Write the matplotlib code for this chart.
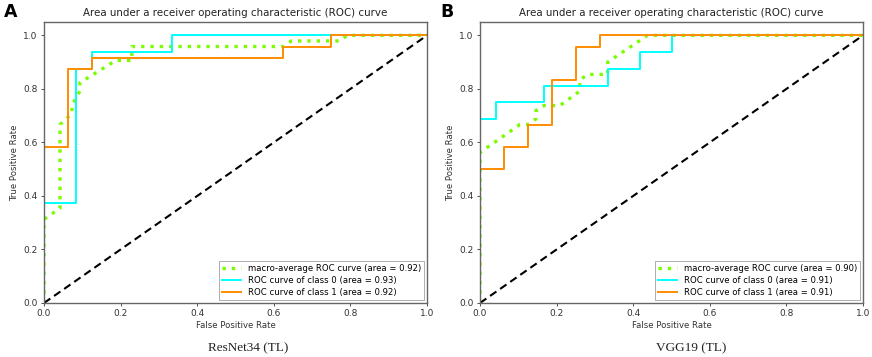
import matplotlib
matplotlib.use("Agg")
import matplotlib.pyplot as plt

# ---------------- data ----------------
titles = ["Area under a receiver operating characteristic (ROC) curve"] * 2
panel_letters = ["A", "B"]
captions = ["ResNet34 (TL)", "VGG19 (TL)"]

# Panel A (ResNet34)
a_macro_fpr = [0, 0, 0.0417, 0.0417, 0.0729, 0.0729, 0.0938, 0.0938, 0.1875, 0.2292, 0.2292, 0.625, 0.6458, 0.7708, 0.7917, 1.0]
a_macro_tpr = [0, 0.3125, 0.3542, 0.6667, 0.7083, 0.7396, 0.7917, 0.8229, 0.9063, 0.9063, 0.9583, 0.9583, 0.9792, 0.9792, 1.0, 1.0]
a_c0_fpr = [0, 0, 0.0833, 0.0833, 0.125, 0.125, 0.3333, 0.3333, 1.0]
a_c0_tpr = [0, 0.375, 0.375, 0.875, 0.875, 0.9375, 0.9375, 1.0, 1.0]
a_c1_fpr = [0, 0, 0.0625, 0.0625, 0.125, 0.125, 0.625, 0.625, 0.75, 0.75, 1.0]
a_c1_tpr = [0, 0.5833, 0.5833, 0.875, 0.875, 0.9167, 0.9167, 0.9583, 0.9583, 1.0, 1.0]
a_auc = [0.92, 0.93, 0.92]

# Panel B (VGG19)
b_macro_fpr = [0, 0, 0.1042, 0.125, 0.1458, 0.1458, 0.1667, 0.2083, 0.2604, 0.2604, 0.2813, 0.3333, 0.3333, 0.4375, 1.0]
b_macro_tpr = [0, 0.5625, 0.6667, 0.6667, 0.6875, 0.7188, 0.7375, 0.7375, 0.7917, 0.8333, 0.8542, 0.8542, 0.90, 1.0, 1.0]
b_c0_fpr = [0, 0, 0.0417, 0.0417, 0.1667, 0.1667, 0.3333, 0.3333, 0.4167, 0.4167, 0.5, 0.5, 1.0]
b_c0_tpr = [0, 0.6875, 0.6875, 0.75, 0.75, 0.8125, 0.8125, 0.875, 0.875, 0.9375, 0.9375, 1.0, 1.0]
b_c1_fpr = [0, 0, 0.0625, 0.0625, 0.125, 0.125, 0.1875, 0.1875, 0.25, 0.25, 0.3125, 0.3125, 1.0]
b_c1_tpr = [0, 0.5, 0.5, 0.5833, 0.5833, 0.6667, 0.6667, 0.8333, 0.8333, 0.9583, 0.9583, 1.0, 1.0]
b_auc = [0.90, 0.91, 0.91]

panels = [
    (a_macro_fpr, a_macro_tpr, a_c0_fpr, a_c0_tpr, a_c1_fpr, a_c1_tpr, a_auc),
    (b_macro_fpr, b_macro_tpr, b_c0_fpr, b_c0_tpr, b_c1_fpr, b_c1_tpr, b_auc),
]

# ---------------- figure ----------------
W, H = 872, 357
fig = plt.figure(figsize=(W / 100, H / 100), dpi=100)
plt.rcParams['font.family'] = ['DejaVu Sans']

ax_lefts = [44, 480]
ax_w = 383
ax_top, ax_bot = 22, 303
letter_x = [4, 440]
caption_x = [248, 691]

for i, (mf, mt, c0f, c0t, c1f, c1t, auc) in enumerate(panels):
    ax = fig.add_axes([ax_lefts[i] / W, (H - ax_bot) / H, ax_w / W, (ax_bot - ax_top) / H])
    ax.plot(mf, mt, color='#7CFC00', linestyle=(0, (1, 1.8)), linewidth=2.4,
            label=f'macro-average ROC curve (area = {auc[0]:.2f})')
    ax.plot(c0f, c0t, color='aqua', linewidth=1.4,
            label=f'ROC curve of class 0 (area = {auc[1]:.2f})')
    ax.plot(c1f, c1t, color='darkorange', linewidth=1.4,
            label=f'ROC curve of class 1 (area = {auc[2]:.2f})')
    ax.plot([0, 1], [0, 1], color='black', linestyle=(0, (3.7, 2.2)), linewidth=1.5)
    ax.set_xlim(0.0, 1.0)
    ax.set_ylim(0.0, 1.05)
    ax.set_xticks([0, 0.2, 0.4, 0.6, 0.8, 1.0])
    ax.set_yticks([0, 0.2, 0.4, 0.6, 0.8, 1.0])
    ax.tick_params(labelsize=6.5, length=2.5, width=0.6, pad=2, colors='#333333')
    for sp in ax.spines.values():
        sp.set_color('#666666')
        sp.set_linewidth(1.0)
    ax.set_xlabel('False Positive Rate', fontsize=6.1, labelpad=2, color='#333333')
    ax.set_ylabel('True Positive Rate', fontsize=6.1, labelpad=3, color='#333333')
    ax.set_title(titles[i], fontsize=7.4, pad=4, color='#222222')
    leg = ax.legend(loc='lower right', fontsize=6.1, frameon=True, fancybox=False,
                    borderaxespad=0.3, handlelength=2.2, labelspacing=0.35)
    leg.get_frame().set_edgecolor('#888888')
    leg.get_frame().set_linewidth(0.6)
    fig.text(letter_x[i] / W, 1 - 12 / H, panel_letters[i], fontsize=12.5, fontweight='bold',
             va='center', ha='left', color='black')
    fig.text(caption_x[i] / W, 1 - 348 / H, captions[i], fontsize=9.5,
             family='Liberation Serif', ha='center', va='center', color='#222222')

fig.savefig('out.png', dpi=100)
